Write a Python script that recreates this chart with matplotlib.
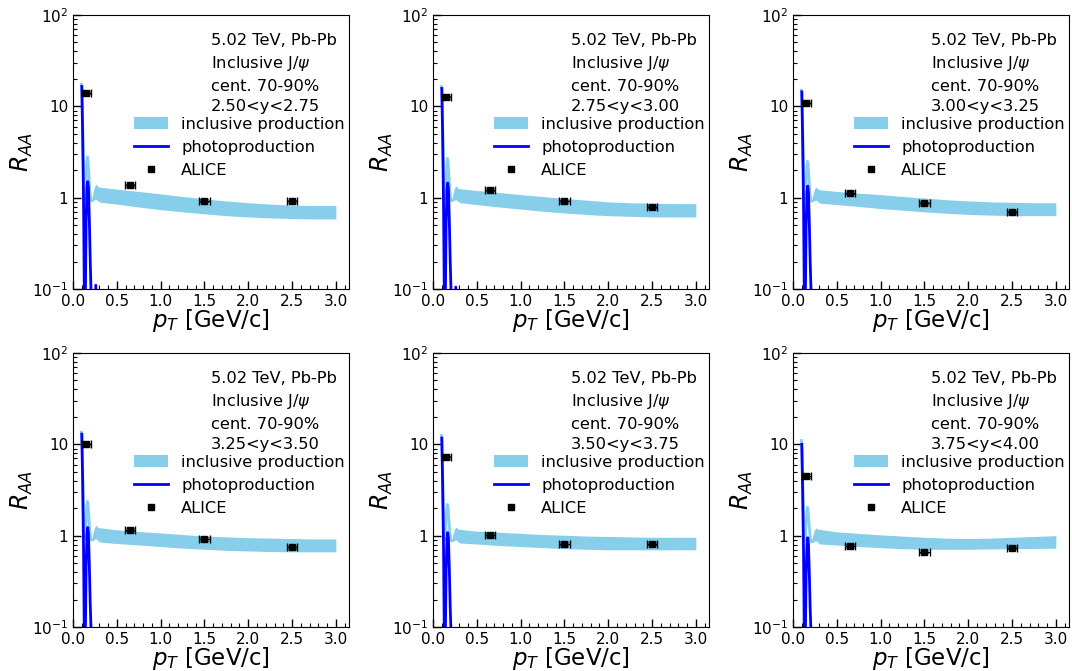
import numpy as np
import matplotlib
matplotlib.use("Agg")
import matplotlib.pyplot as plt
from matplotlib.ticker import FixedLocator, NullFormatter, MultipleLocator

# ============================================================
# DATA
# ============================================================
RAPIDITY = ["2.50<y<2.75", "2.75<y<3.00", "3.00<y<3.25",
            "3.25<y<3.50", "3.50<y<3.75", "3.75<y<4.00"]

# ALICE points
ALICE_PT = [0.15, 0.65, 1.5, 2.5]
ALICE_XERR = [0.05, 0.06, 0.06, 0.06]
ALICE_RAA = [
    [14.1, 1.36, 0.93, 0.91],
    [12.5, 1.22, 0.91, 0.80],
    [11.0, 1.13, 0.87, 0.69],
    [10.0, 1.16, 0.92, 0.75],
    [7.2, 1.02, 0.81, 0.82],
    [4.5, 0.77, 0.67, 0.74],
]

# photoproduction curve
PHOTO_PT = [0.100, 0.110, 0.120, 0.128, 0.135, 0.142, 0.150, 0.160, 0.168,
            0.176, 0.186, 0.196, 0.205, 0.214, 0.240, 0.260, 0.280]
PHOTO_RAA = [
    [16.5, 5.0, 1.0, 0.12, 0.02, 0.10, 0.55, 1.30, 1.50, 1.30, 0.60, 0.22, 0.10, 0.04, 0.02, 0.11, 0.02],
    [15.7, 4.8, 0.9, 0.11, 0.02, 0.10, 0.53, 1.25, 1.45, 1.25, 0.58, 0.21, 0.10, 0.04, 0.02, 0.105, 0.02],
    [14.4, 4.4, 0.9, 0.11, 0.02, 0.10, 0.50, 1.15, 1.34, 1.15, 0.54, 0.20, 0.10, 0.04, 0.02, 0.05, 0.02],
    [12.9, 4.0, 0.8, 0.10, 0.02, 0.10, 0.46, 1.05, 1.23, 1.05, 0.50, 0.19, 0.10, 0.04, 0.02, 0.05, 0.02],
    [11.7, 3.6, 0.8, 0.10, 0.02, 0.10, 0.41, 0.93, 1.08, 0.93, 0.45, 0.17, 0.09, 0.04, 0.02, 0.05, 0.02],
    [10.0, 3.1, 0.7, 0.10, 0.02, 0.10, 0.37, 0.82, 0.95, 0.82, 0.40, 0.16, 0.09, 0.04, 0.02, 0.05, 0.02],
]

# inclusive production, low pT part (thin)
LOW_PT = [0.095, 0.102, 0.112, 0.122, 0.132, 0.142, 0.150, 0.158, 0.165,
          0.172, 0.182, 0.192, 0.202, 0.212]
LOW_RAA = [
    [17.5, 16.5, 5.5, 1.5, 0.95, 1.0, 1.6, 2.5, 2.8, 2.6, 1.8, 1.2, 0.97, 0.93],
    [16.5, 15.7, 5.2, 1.4, 0.95, 1.0, 1.55, 2.4, 2.7, 2.5, 1.75, 1.18, 0.96, 0.93],
    [15.0, 14.4, 4.8, 1.35, 0.94, 0.99, 1.5, 2.25, 2.5, 2.35, 1.65, 1.15, 0.95, 0.92],
    [13.6, 12.9, 4.4, 1.3, 0.92, 0.97, 1.45, 2.15, 2.37, 2.2, 1.6, 1.12, 0.93, 0.90],
    [12.5, 11.7, 4.0, 1.25, 0.90, 0.95, 1.4, 2.0, 2.2, 2.05, 1.5, 1.08, 0.91, 0.88],
    [11.0, 10.0, 3.6, 1.2, 0.88, 0.93, 1.35, 1.85, 2.04, 1.9, 1.42, 1.05, 0.89, 0.86],
]

# inclusive production band
BAND_PT = [0.212, 0.225, 0.245, 0.265, 0.285, 0.31, 0.5, 0.75, 1.0, 1.25,
           1.5, 1.75, 2.0, 2.25, 2.5, 2.75, 3.0]
BAND_LO = [
    [0.92, 0.91, 0.95, 0.96, 0.92, 0.89, 0.85, 0.79, 0.74, 0.70, 0.665, 0.635, 0.615, 0.60, 0.59, 0.585, 0.585],
    [0.92, 0.91, 0.94, 0.95, 0.91, 0.88, 0.84, 0.79, 0.75, 0.71, 0.68, 0.655, 0.635, 0.625, 0.615, 0.615, 0.615],
    [0.91, 0.90, 0.93, 0.94, 0.90, 0.87, 0.84, 0.80, 0.76, 0.73, 0.70, 0.675, 0.655, 0.645, 0.635, 0.635, 0.635],
    [0.89, 0.88, 0.91, 0.92, 0.88, 0.85, 0.82, 0.79, 0.76, 0.73, 0.71, 0.69, 0.68, 0.67, 0.665, 0.665, 0.665],
    [0.87, 0.86, 0.89, 0.90, 0.86, 0.83, 0.81, 0.78, 0.76, 0.74, 0.72, 0.71, 0.70, 0.70, 0.70, 0.70, 0.70],
    [0.85, 0.84, 0.87, 0.88, 0.84, 0.81, 0.79, 0.76, 0.74, 0.72, 0.71, 0.71, 0.71, 0.715, 0.72, 0.725, 0.73],
]
BAND_HI = [
    [0.94, 1.10, 1.32, 1.40, 1.32, 1.30, 1.24, 1.17, 1.10, 1.03, 0.97, 0.92, 0.88, 0.85, 0.83, 0.82, 0.82],
    [0.94, 1.08, 1.28, 1.35, 1.27, 1.25, 1.20, 1.14, 1.08, 1.03, 0.98, 0.94, 0.90, 0.88, 0.87, 0.86, 0.86],
    [0.93, 1.06, 1.24, 1.31, 1.24, 1.22, 1.17, 1.12, 1.08, 1.03, 0.99, 0.95, 0.92, 0.90, 0.89, 0.88, 0.88],
    [0.91, 1.05, 1.23, 1.30, 1.23, 1.22, 1.16, 1.11, 1.07, 1.03, 0.99, 0.97, 0.95, 0.94, 0.93, 0.92, 0.92],
    [0.89, 1.02, 1.18, 1.24, 1.18, 1.17, 1.12, 1.09, 1.06, 1.03, 1.01, 0.99, 0.98, 0.97, 0.96, 0.96, 0.96],
    [0.87, 1.00, 1.16, 1.22, 1.17, 1.17, 1.10, 1.06, 1.02, 0.99, 0.96, 0.94, 0.93, 0.94, 0.96, 0.98, 1.00],
]

BAND_COLOR = "skyblue"
LINE_COLOR = "blue"

# ============================================================
# PLOT STYLE
# ============================================================
plt.rcParams.update({
    "font.family": "DejaVu Sans",
    "mathtext.fontset": "dejavusans",
    "xtick.direction": "in",
    "ytick.direction": "in",
    "xtick.labelsize": 11,
    "ytick.labelsize": 11,
})

fig = plt.figure(figsize=(10.72, 6.71), dpi=100)

col_left = [73 / 1072, 433 / 1072, 793 / 1072]
row_bottom = [1 - 289 / 671, 1 - 627 / 671]
w, h = 276 / 1072, 274 / 671

for i in range(6):
    r, c = divmod(i, 3)
    ax = fig.add_axes([col_left[c], row_bottom[r], w, h])

    band = ax.fill_between(BAND_PT, BAND_LO[i], BAND_HI[i], color=BAND_COLOR,
                           lw=0, label="inclusive production")
    ax.plot(LOW_PT, LOW_RAA[i], color=BAND_COLOR, lw=2)
    photo, = ax.plot(PHOTO_PT, PHOTO_RAA[i], color=LINE_COLOR, lw=2,
                     label="photoproduction")
    yerr = [v * 0.04 for v in ALICE_RAA[i]]
    eb = ax.errorbar(ALICE_PT, ALICE_RAA[i], xerr=ALICE_XERR, yerr=yerr,
                     fmt="s", color="black", ms=5, capsize=3, elinewidth=1,
                     label="ALICE")

    ax.set_yscale("log")
    ax.set_ylim(0.1, 100)
    ax.set_xlim(0, 3.15)

    ax.yaxis.set_major_locator(FixedLocator([0.1, 1, 10, 100]))
    ax.set_yticklabels(["$10^{-1}$", "1", "10", "$10^{2}$"])
    ax.yaxis.set_minor_locator(FixedLocator(
        [m * 10.0 ** e for e in (-1, 0, 1) for m in range(2, 10)]))
    ax.yaxis.set_minor_formatter(NullFormatter())
    ax.xaxis.set_major_locator(MultipleLocator(0.5))
    ax.xaxis.set_minor_locator(MultipleLocator(0.1))
    ax.tick_params(which="major", length=6, width=1, top=False, right=False)
    ax.tick_params(which="minor", length=3, width=0.8, top=False, right=False)

    ax.set_xlabel("$p_T$ [GeV/c]", fontsize=16.5, labelpad=-1)
    ax.set_ylabel("$R_{AA}$", fontsize=17, labelpad=-2)

    txt = "5.02 TeV, Pb-Pb\nInclusive J/$\\psi$\ncent. 70-90%\n" + RAPIDITY[i]
    ax.text(0.5, 0.935, txt, transform=ax.transAxes, fontsize=11.7,
            va="top", ha="left", linespacing=1.45)

    ax.legend(handles=[band, photo, eb[0]],
              labels=["inclusive production", "photoproduction", "ALICE"],
              loc="upper right", bbox_to_anchor=(1.02, 0.665), frameon=False,
              fontsize=11.7, handlelength=2.1, labelspacing=0.5,
              handletextpad=0.8, borderaxespad=0.2)

fig.savefig("out.png", dpi=100)
